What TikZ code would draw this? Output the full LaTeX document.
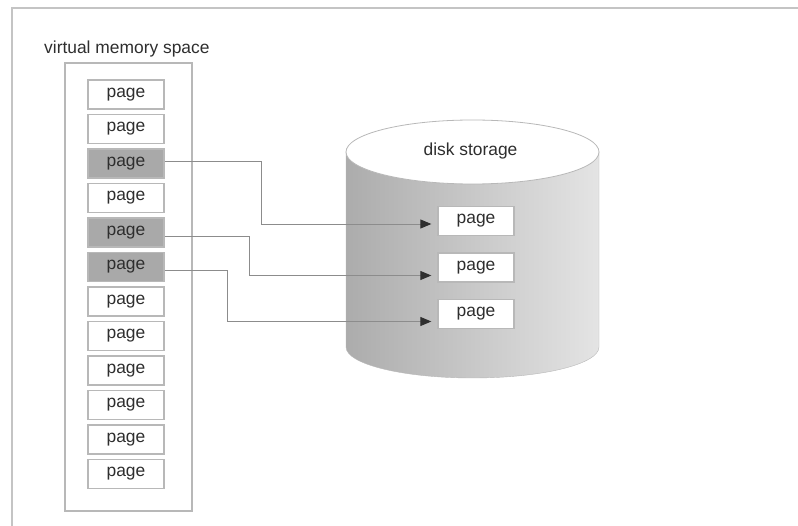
\documentclass[tikz,border=0pt]{standalone}
\usepackage{fontspec}
\setmainfont{Liberation Sans}
\usetikzlibrary{arrows.meta}

\definecolor{framegray}{HTML}{C4C4C4}
\definecolor{boxgray}{HTML}{B8B8B8}
\definecolor{shadegray}{HTML}{A9A9A9}
\definecolor{linegray}{HTML}{8C8C8C}
\definecolor{textgray}{HTML}{2E2E2E}
\definecolor{diskleft}{HTML}{ACACAC}
\definecolor{diskright}{HTML}{E4E4E4}

\begin{document}
\begin{tikzpicture}[x=1pt,y=-1pt,
    font=\fontsize{17.4}{20}\selectfont, text=textgray,
    pagebox/.style={draw=boxgray, line width=1.3pt, minimum width=76pt,
      minimum height=29pt, inner sep=0pt},
    link/.style={draw=linegray, line width=0.9pt, shorten >=6pt,
      -{Triangle[length=11pt,width=9pt,color=textgray]}}]
      \useasboundingbox (0,0) rectangle (798,526);

      \draw[framegray, line width=2.5pt] (12,526) -- (12,8) -- (798,8);

	\node[anchor=base west, inner sep=0pt] (title) at (44,53.5) {virtual memory space};
	\node[draw=boxgray, line width=1.3pt, minimum width=127pt,
	  minimum height=448pt] (space) at (128.5,287) {};

	\foreach \i/\c in {1/white,2/white,3/shadegray,4/white,5/shadegray,6/shadegray,
	    7/white,8/white,9/white,10/white,11/white,12/white}{
   	   \node[pagebox, fill=\c] (p\i) at (126,{60+34.5*\i}) {page};
  	}

      \shade[left color=diskleft, right color=diskright, draw=boxgray]
        (346,152) -- (346,347)
        arc[start angle=180, end angle=360, x radius=126.5pt, y radius=31pt]
        -- (599,152) -- cycle;
      \draw[boxgray, fill=white, line width=0.8pt] (472.5,152)
        ellipse [x radius=126.5pt, y radius=32pt];
	\node (disk) at (470.5,151) {disk storage};

	\foreach \i in {1,2,3}{
   	   \node[pagebox, fill=white] (d\i) at (476,{174.5+46.5*\i}) {page};
  	}

	\draw[link] ([yshift=2.5pt]p3.east) -- ++(97,0) |- ([yshift=-3pt]d1.west);
	\draw[link] ([yshift=-3.5pt]p5.east) -- ++(85,0) |- ([yshift=-8pt]d2.west);
	\draw[link] ([yshift=-3pt]p6.east) -- ++(63,0) |- ([yshift=-7.5pt]d3.west);
    \end{tikzpicture}
\end{document}
